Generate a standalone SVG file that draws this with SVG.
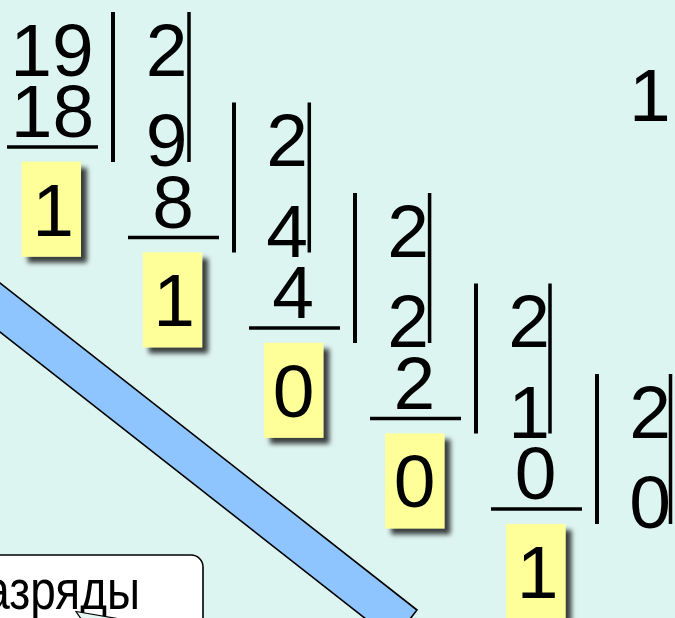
<svg xmlns="http://www.w3.org/2000/svg" width="675" height="618" viewBox="0 0 675 618">
<defs>
<filter id="sh" x="-30%" y="-30%" width="170%" height="170%">
<feDropShadow dx="6" dy="6" stdDeviation="2.5" flood-color="#000" flood-opacity="0.75"/>
</filter>
<style>
.n{font-family:"Liberation Sans",Arial,sans-serif;font-size:75px;fill:#000;text-anchor:middle}
.bar{stroke:#000;stroke-width:4;fill:none}
.rbar{stroke:#000;stroke-width:3.5;fill:none}
.ul{stroke:#000;stroke-width:3.3;fill:none}
.box{fill:#FFFF99;filter:url(#sh)}
.lbl{font-family:"Liberation Sans",Arial,sans-serif;font-size:56px;fill:#000;text-anchor:end}
</style>
</defs>
<rect width="675" height="618" fill="#DDF5F0"/>

<g id="band">
<polygon points="-10,275.2 417,610 393.2,640.4 -10,324.2" fill="#8EC5FF" stroke="#000" stroke-width="1.6"/>
</g>

<g id="callout">
<rect x="-20" y="555" width="223" height="110" rx="12" fill="#FFFFFF" stroke="#000" stroke-width="1.6"/>
<text class="lbl" transform="scale(0.82,1)" x="170.7" y="609">азряды</text>
<polygon points="76,611.5 120,619 86,626" fill="#E6F7F3" stroke="#000" stroke-width="1.2"/>
</g>

<g id="connectors">
<line class="bar" x1="113" y1="12" x2="113" y2="162"/>
<line class="rbar" x1="189" y1="12" x2="189" y2="162"/>
<line class="ul" x1="7" y1="147" x2="98" y2="147"/>
<line class="bar" x1="234" y1="102.5" x2="234" y2="252.5"/>
<line class="rbar" x1="309.3" y1="102.5" x2="309.3" y2="252.5"/>
<line class="ul" x1="128" y1="237.5" x2="219" y2="237.5"/>
<line class="bar" x1="355" y1="193" x2="355" y2="343"/>
<line class="rbar" x1="429.6" y1="193" x2="429.6" y2="343"/>
<line class="ul" x1="249" y1="328" x2="340" y2="328"/>
<line class="bar" x1="476" y1="283.5" x2="476" y2="433.5"/>
<line class="rbar" x1="550" y1="283.5" x2="550" y2="433.5"/>
<line class="ul" x1="370" y1="418.5" x2="461" y2="418.5"/>
<line class="bar" x1="597" y1="374" x2="597" y2="524"/>
<line class="rbar" x1="670.5" y1="374" x2="670.5" y2="524"/>
<line class="ul" x1="491" y1="509" x2="582" y2="509"/>
</g>

<g id="step0">
<text class="n" x="52" y="75.5">19</text>
<text class="n" x="52.5" y="137">18</text>
<text class="n" x="166.5" y="75.5">2</text>
<g id="r0"><rect class="box" x="21.7" y="161.7" width="59.3" height="95"/><text class="n" x="53" y="235.5">1</text></g>
</g>

<g id="step1">
<text class="n" x="166.5" y="166">9</text>
<text class="n" x="173" y="227.5">8</text>
<text class="n" x="287" y="166">2</text>
<g id="r1"><rect class="box" x="142.8" y="252.3" width="59.3" height="95"/><text class="n" x="174" y="326">1</text></g>
</g>

<g id="step2">
<text class="n" x="287" y="256.5">4</text>
<text class="n" x="293" y="318">4</text>
<text class="n" x="408" y="256.5">2</text>
<g id="r2"><rect class="box" x="264" y="342.8" width="59.3" height="95"/><text class="n" x="293.6" y="416.5">0</text></g>
</g>

<g id="step3">
<text class="n" x="408" y="347">2</text>
<text class="n" x="414.3" y="408.5">2</text>
<text class="n" x="529.2" y="347">2</text>
<g id="r3"><rect class="box" x="385.1" y="433.4" width="59.3" height="95"/><text class="n" x="414.7" y="507">0</text></g>
</g>

<g id="step4">
<text class="n" x="529" y="437.5">1</text>
<text class="n" x="535.5" y="499">0</text>
<text class="n" x="650" y="437.5">2</text>
<g id="r4"><rect class="box" x="506.2" y="524" width="59.3" height="95"/><text class="n" x="537.5" y="597.5">1</text></g>
</g>

<g id="step5">
<text class="n" x="650" y="528">0</text>
</g>

<g id="result">
<text class="n" x="629" y="121" style="text-anchor:start">1</text>
</g>
</svg>
